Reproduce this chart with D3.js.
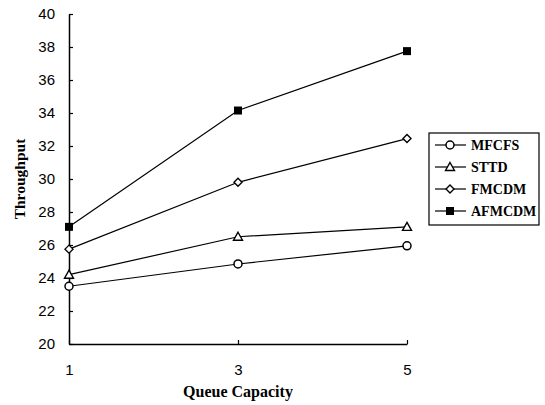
<!DOCTYPE html>
<html>
<head>
<meta charset="utf-8">
<script src="https://cdn.jsdelivr.net/npm/d3@7"></script>
<style>
  body { margin: 0; background: #fff; }
  svg { display: block; }
</style>
</head>
<body>
<script>
// chart data
var capacities = [1, 3, 5];
var seriesNames = ['MFCFS', 'STTD', 'FMCDM', 'AFMCDM'];
var mfcfs = [23.5, 24.85, 25.95];
var sttd = [24.2, 26.5, 27.1];
var fmcdm = [25.75, 29.8, 32.45];
var afmcdm = [27.1, 34.15, 37.75];
var yTicks = [20, 22, 24, 26, 28, 30, 32, 34, 36, 38, 40];

var width = 545, height = 405;
var svg = d3.select('body').append('svg')
  .attr('width', width)
  .attr('height', height);

var x = d3.scaleLinear().domain([1, 5]).range([69, 407]);
var y = d3.scaleLinear().domain([20, 40]).range([344, 14]);

var tickFont = '"Liberation Sans", Arial, sans-serif';
var titleFont = '"Liberation Serif", "Times New Roman", serif';

// axes, ticks pointing inside
var yAxis = svg.append('g')
  .attr('transform', 'translate(' + x(1) + ',0)')
  .call(d3.axisLeft(y).tickValues(yTicks).tickSizeInner(-4).tickSizeOuter(0).tickPadding(14));
var xAxis = svg.append('g')
  .attr('transform', 'translate(0,' + y(20) + ')')
  .call(d3.axisBottom(x).tickValues(capacities).tickFormat(d3.format('d'))
    .tickSizeInner(-4).tickSizeOuter(0).tickPadding(20));

[yAxis, xAxis].forEach(function (g) {
  g.select('.domain').attr('stroke', '#000').attr('stroke-width', 1.5);
  g.selectAll('.tick line').attr('stroke', '#000').attr('stroke-width', 1.2);
  g.selectAll('.tick text')
    .attr('fill', '#000')
    .style('font-family', tickFont)
    .style('font-size', '15px');
});

svg.append('text')
  .attr('x', x(3))
  .attr('y', 397)
  .attr('text-anchor', 'middle')
  .style('font-family', titleFont)
  .style('font-weight', 'bold')
  .style('font-size', '16px')
  .text('Queue Capacity');

svg.append('text')
  .attr('transform', 'translate(25,179) rotate(-90)')
  .attr('text-anchor', 'middle')
  .style('font-family', titleFont)
  .style('font-weight', 'bold')
  .style('font-size', '15.5px')
  .text('Throughput');

var allSeries = [mfcfs, sttd, fmcdm, afmcdm];
var markers = ['circle', 'triangle', 'diamond', 'square'];

var drawMarker = function (g, kind, cx, cy) {
  if (kind == 'circle') {
    g.append('circle').attr('cx', cx).attr('cy', cy).attr('r', 4)
      .attr('fill', '#fff').attr('stroke', '#000').attr('stroke-width', 1.5);
  }
  if (kind == 'triangle') {
    g.append('path')
      .attr('d', 'M' + cx + ',' + (cy - 4.5) + 'L' + (cx + 4.5) + ',' + (cy + 3.5) + 'L' + (cx - 4.5) + ',' + (cy + 3.5) + 'Z')
      .attr('fill', '#fff').attr('stroke', '#000').attr('stroke-width', 1.4);
  }
  if (kind == 'diamond') {
    g.append('path')
      .attr('d', 'M' + cx + ',' + (cy - 4) + 'L' + (cx + 4) + ',' + cy + 'L' + cx + ',' + (cy + 4) + 'L' + (cx - 4) + ',' + cy + 'Z')
      .attr('fill', '#fff').attr('stroke', '#000').attr('stroke-width', 1.4);
  }
  if (kind == 'square') {
    g.append('rect').attr('x', cx - 4).attr('y', cy - 4).attr('width', 8).attr('height', 8)
      .attr('fill', '#000');
  }
};

var line = d3.line()
  .x(function (d, i) { return x(capacities[i]); })
  .y(function (d) { return y(d); });

allSeries.forEach(function (vals, s) {
  svg.append('path')
    .attr('d', line(vals))
    .attr('fill', 'none')
    .attr('stroke', '#000')
    .attr('stroke-width', 1.2);
});
allSeries.forEach(function (vals, s) {
  var g = svg.append('g');
  vals.forEach(function (v, i) {
    drawMarker(g, markers[s], x(capacities[i]), y(v));
  });
});

// legend
var legend = svg.append('g');
legend.append('rect')
  .attr('x', 429).attr('y', 133)
  .attr('width', 110).attr('height', 92)
  .attr('fill', '#fff').attr('stroke', '#000').attr('stroke-width', 1.2);
seriesNames.forEach(function (name, i) {
  var ly = 145 + i * 22;
  legend.append('line')
    .attr('x1', 435).attr('x2', 466)
    .attr('y1', ly).attr('y2', ly)
    .attr('stroke', '#000').attr('stroke-width', 1.2);
  drawMarker(legend, markers[i], 450, ly);
  legend.append('text')
    .attr('x', 471).attr('y', ly + 5)
    .style('font-family', titleFont)
    .style('font-weight', 'bold')
    .style('font-size', '14px')
    .text(name);
});
</script>
</body>
</html>
